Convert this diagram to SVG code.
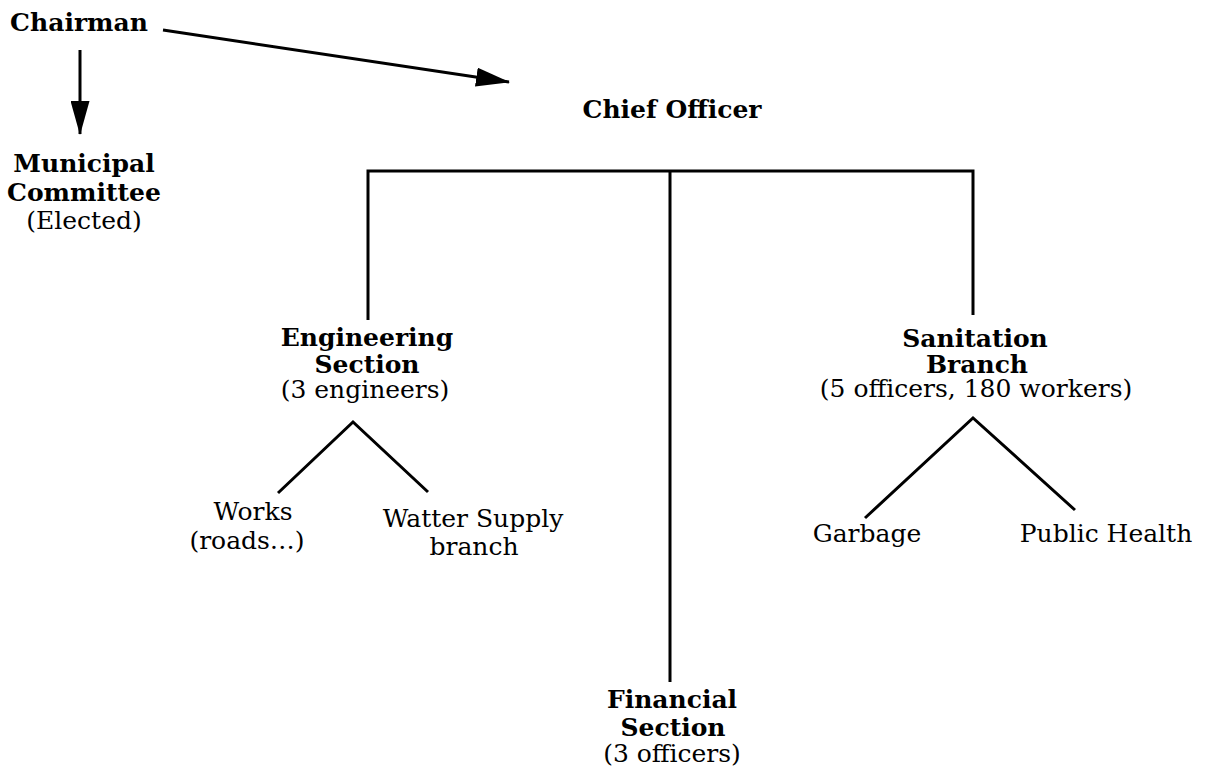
<svg xmlns="http://www.w3.org/2000/svg" width="1206" height="772" viewBox="0 0 1206 772">
<style>
text{font-family:"DejaVu Serif","Liberation Serif",serif;fill:#000;text-anchor:middle}
.b{font-weight:bold;font-size:25px}
.r{font-size:25px}
.ln{stroke:#000;stroke-width:3;fill:none}
</style>
<defs>
<marker id="ah" viewBox="0 0 34 19" refX="33" refY="9.5" markerWidth="34" markerHeight="19" markerUnits="userSpaceOnUse" orient="auto">
<path d="M0,0L34,9.5L0,19z" fill="#000"/>
</marker>
</defs>
<rect width="1206" height="772" fill="#fff"/>
<g id="connectors">
<line class="ln" x1="163" y1="30" x2="509" y2="82" marker-end="url(#ah)"/>
<line class="ln" x1="80" y1="50" x2="80" y2="134" marker-end="url(#ah)"/>
<polyline class="ln" points="368,320 368,171 973,171 973,315"/>
<line class="ln" x1="670" y1="171" x2="670" y2="682"/>
<polyline class="ln" points="278,493 353,422 428,492"/>
<polyline class="ln" points="865,518 973,418 1075,510"/>
</g>
<g id="chairman"><text class="b" x="79" y="31">Chairman</text></g>
<g id="chief-officer"><text class="b" x="672" y="118">Chief Officer</text></g>
<g id="municipal-committee">
<text class="b" x="84" y="172">Municipal</text>
<text class="b" x="84" y="201">Committee</text>
<text class="r" x="84" y="229">(Elected)</text>
</g>
<g id="engineering-section">
<text class="b" x="367" y="346">Engineering</text>
<text class="b" x="367" y="373">Section</text>
<text class="r" x="365" y="398">(3 engineers)</text>
</g>
<g id="sanitation-branch">
<text class="b" x="975" y="347">Sanitation</text>
<text class="b" x="977" y="373">Branch</text>
<text class="r" x="976" y="397">(5 officers, 180 workers)</text>
</g>
<g id="works">
<text class="r" x="253" y="520">Works</text>
<text class="r" x="247" y="549">(roads…)</text>
</g>
<g id="water-supply">
<text class="r" x="473" y="527">Watter Supply</text>
<text class="r" x="474" y="555">branch</text>
</g>
<g id="garbage"><text class="r" x="867" y="542">Garbage</text></g>
<g id="public-health"><text class="r" x="1106" y="542">Public Health</text></g>
<g id="financial-section">
<text class="b" x="672" y="708">Financial</text>
<text class="b" x="673" y="736">Section</text>
<text class="r" x="672" y="762">(3 officers)</text>
</g>
</svg>
